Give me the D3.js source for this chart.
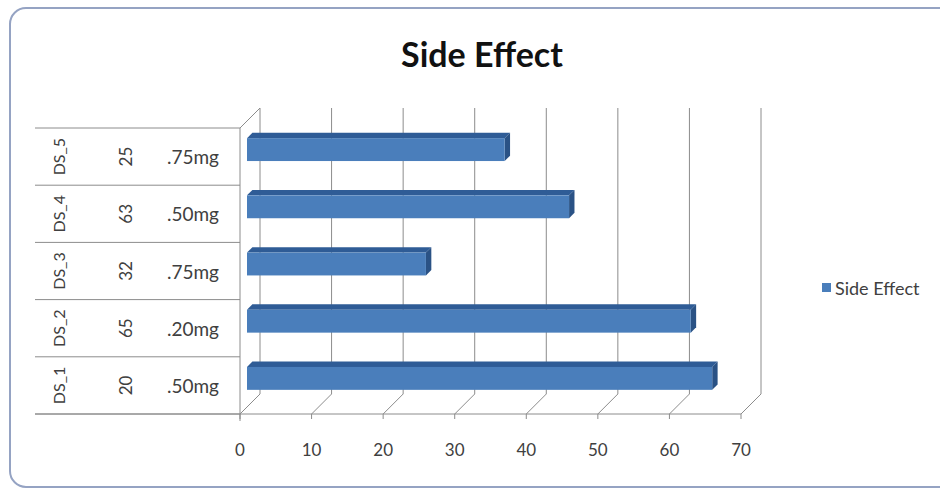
<!DOCTYPE html>
<html>
<head>
<meta charset="utf-8">
<script src="https://cdn.jsdelivr.net/npm/d3@7"></script>
<style>
  html, body { margin: 0; padding: 0; background: #ffffff; }
  svg { display: block; }
  text { font-family: Lato, "Open Sans", sans-serif; }
</style>
</head>
<body>
<svg id="chart" width="940" height="489"></svg>
<script>
// Categories, listed bottom to top, with their three label levels
const names  = ["DS_1", "DS_2", "DS_3", "DS_4", "DS_5"];
const codes  = ["20", "65", "32", "63", "25"];
const doses  = [".50mg", ".20mg", ".75mg", ".50mg", ".75mg"];
// Series values
const sideEffect = [65, 62, 25, 45, 36];
const seriesName = "Side Effect";
// Value axis ticks
const xTicks = [0, 10, 20, 30, 40, 50, 60, 70];

const svg = d3.select("#chart");

// Outer chart frame
svg.append("rect")
  .attr("x", 10).attr("y", 8).attr("width", 960).attr("height", 479)
  .attr("rx", 16).attr("ry", 16)
  .attr("fill", "#ffffff").attr("stroke", "#95a3c3").attr("stroke-width", 2);

// Title
svg.append("text")
  .attr("x", 482).attr("y", 67)
  .attr("text-anchor", "middle")
  .attr("font-size", 34).attr("font-weight", 700).attr("fill", "#111")
  .text("Side Effect");

// Oblique 3D projection: depth d in [0,1] shifts points right and up
const DX = 20, DY = -20;
const front = { top: 128, bottom: 414 };

const x = d3.scaleLinear().domain([0, 70]).range([240, 741]);
const y = d3.scaleBand().domain(names.slice().reverse())
  .range([front.top, front.bottom]).paddingInner(0).paddingOuter(0);

const proj = (px, py, d) => [px + DX * d, py + DY * d];
const gridColor = "#8c8c8c";

const walls = svg.append("g");
// Back wall gridlines and floor diagonals
xTicks.forEach(v => {
  const [bx, by0] = proj(x(v), front.top, 1);
  const [, by1] = proj(x(v), front.bottom, 1);
  walls.append("line")
    .attr("x1", bx).attr("x2", bx).attr("y1", by0).attr("y2", by1)
    .attr("stroke", gridColor).attr("stroke-width", 1);
  const [ex, ey] = proj(x(v), front.bottom, 1);
  walls.append("line")
    .attr("x1", x(v)).attr("y1", front.bottom).attr("x2", ex).attr("y2", ey)
    .attr("stroke", gridColor).attr("stroke-width", 1);
});
// Left wall outline
const lwTop = proj(x(0), front.top, 1);
walls.append("line")
  .attr("x1", x(0)).attr("y1", front.top).attr("x2", lwTop[0]).attr("y2", lwTop[1])
  .attr("stroke", gridColor);
walls.append("line")
  .attr("x1", x(0)).attr("x2", x(0)).attr("y1", front.top).attr("y2", front.bottom + 7)
  .attr("stroke", gridColor);

// Front value axis line with ticks
svg.append("line")
  .attr("x1", 35).attr("x2", x(70)).attr("y1", front.bottom).attr("y2", front.bottom)
  .attr("stroke", gridColor);
xTicks.forEach(v => {
  svg.append("line")
    .attr("x1", x(v)).attr("x2", x(v)).attr("y1", front.bottom).attr("y2", front.bottom + 5)
    .attr("stroke", gridColor);
});
svg.append("g").selectAll("text").data(xTicks).join("text")
  .attr("x", d => x(d)).attr("y", 456)
  .attr("text-anchor", "middle").attr("font-size", 17).attr("fill", "#404040")
  .text(d => d);

// Category table on the left
const rows = names.map((n, i) => ({ name: n, code: codes[i], dose: doses[i] }));
const bounds = y.domain().map(n => y(n)).concat([front.bottom]);
bounds.forEach(b => {
  svg.append("line")
    .attr("x1", 35).attr("x2", x(0)).attr("y1", b).attr("y2", b)
    .attr("stroke", gridColor);
});
const lab = svg.append("g").attr("fill", "#404040");
rows.forEach(r => {
  const cy = y(r.name) + y.bandwidth() / 2;
  lab.append("text")
    .attr("transform", `translate(58,${cy}) rotate(-90)`)
    .attr("text-anchor", "middle").attr("dominant-baseline", "central")
    .attr("font-size", 16)
    .text(r.name);
  lab.append("text")
    .attr("transform", `translate(125,${cy}) rotate(-90)`)
    .attr("text-anchor", "middle").attr("dominant-baseline", "central")
    .attr("font-size", 17)
    .text(r.code);
  lab.append("text")
    .attr("x", 193).attr("y", cy)
    .attr("text-anchor", "middle").attr("dominant-baseline", "central")
    .attr("font-size", 19)
    .text(r.dose);
});

// 3D bars
const dFront = 0.35, dBack = 0.62;
const barH = y.bandwidth() * 0.4;
const colFront = "#4a7ebb", colTop = "#2f5c96", colSide = "#2a5285";
const bars = svg.append("g");
names.forEach((n, i) => {
  const v = sideEffect[i];
  const cy = y(n) + y.bandwidth() / 2;
  const [x0, yc] = proj(x(0), cy, dFront);
  const [x1] = proj(x(v), cy, dFront);
  const t = yc - barH / 2, b = yc + barH / 2;
  const ox = DX * (dBack - dFront), oy = DY * (dBack - dFront);
  // top face
  bars.append("path")
    .attr("d", `M${x0},${t} L${x0 + ox},${t + oy} L${x1 + ox},${t + oy} L${x1},${t} Z`)
    .attr("fill", colTop);
  // end face
  bars.append("path")
    .attr("d", `M${x1},${t} L${x1 + ox},${t + oy} L${x1 + ox},${b + oy} L${x1},${b} Z`)
    .attr("fill", colSide);
  // front face
  bars.append("rect")
    .attr("x", x0).attr("y", t).attr("width", x1 - x0).attr("height", barH)
    .attr("fill", colFront);
});

// Legend
svg.append("rect").attr("x", 822).attr("y", 283).attr("width", 9).attr("height", 9)
  .attr("fill", colFront);
svg.append("text").attr("x", 835).attr("y", 288)
  .attr("dominant-baseline", "central").attr("font-size", 18).attr("fill", "#404040")
  .text(seriesName);
</script>
</body>
</html>
